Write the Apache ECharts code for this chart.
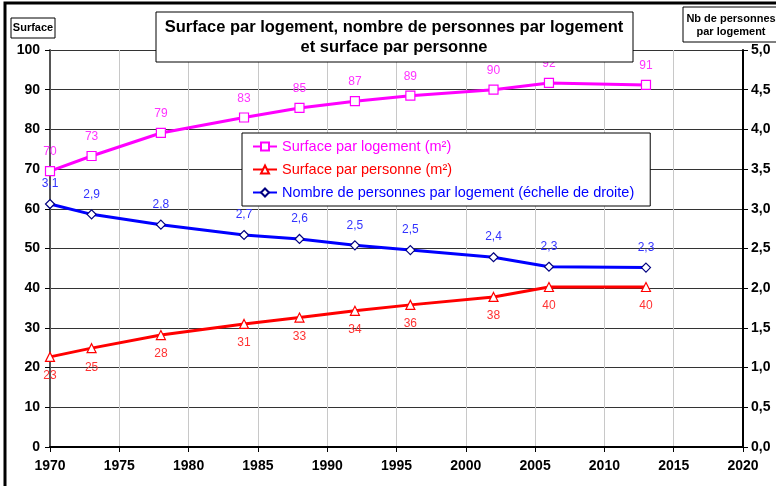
<!DOCTYPE html>
<html>
<head>
<meta charset="utf-8">
<script src="https://cdn.jsdelivr.net/npm/echarts@6/dist/echarts.min.js"></script>
<style>
  html, body { margin: 0; padding: 0; background: #fff; }
  #main { width: 776px; height: 486px; }
</style>
</head>
<body>
<div id="main"></div>
<script>
// années des relevés
var annees = [1970, 1973, 1978, 1984, 1988, 1992, 1996, 2002, 2006, 2013];
// surface par logement (m²)
var surfLogement = [69.5, 73.3, 79.1, 83.0, 85.4, 87.1, 88.5, 90.0, 91.7, 91.2];
// surface par personne (m²)
var surfPersonne = [22.7, 24.9, 28.2, 31.0, 32.6, 34.3, 35.8, 37.8, 40.3, 40.3];
// nombre de personnes par logement (échelle de droite)
var nbPersonnes = [3.06, 2.93, 2.80, 2.67, 2.62, 2.54, 2.48, 2.39, 2.27, 2.26];

var nomsSeries = ['Surface par logement (m²)', 'Surface par personne (m²)', 'Nombre de personnes par logement (échelle de droite)'];
var couleurs = ['#FF00FF', '#FF0000', '#0000FF'];

function paires(vals) {
	var out = [];
	for (var i = 0; i < annees.length; i++) {
		out.push([annees[i], vals[i]]);
	}
	return out;
}

var myChart = echarts.init(document.getElementById('main'));

var axeFont = { fontFamily: 'Liberation Sans, Arial', fontWeight: 'bold', fontSize: 14, color: '#000' };

var option = {
	backgroundColor: '#fff',
	animation: false,
	grid: { left: 50, right: 33, top: 50, bottom: 39 },
	legend: {
		orient: 'vertical',
		left: 242,
		top: 133,
		padding: [6, 16, 6, 10],
		itemGap: 8,
		itemWidth: 24,
		itemHeight: 10,
		backgroundColor: '#fff',
		borderColor: '#000',
		borderWidth: 1,
		data: nomsSeries.map(function(n, i) {
			return { name: n, textStyle: { color: couleurs[i] } };
		}),
		textStyle: { fontFamily: 'Liberation Sans, Arial', fontSize: 14.5 }
	},
	xAxis: {
		type: 'value',
		min: 1970,
		max: 2020,
		interval: 5,
		axisLine: { lineStyle: { color: '#000', width: 2 } },
		axisTick: { show: true, length: 5, lineStyle: { color: '#000' } },
		axisLabel: Object.assign({ margin: 12, formatter: function(v) { return String(v); } }, axeFont),
		splitLine: { show: true, lineStyle: { color: '#c8c8c8', width: 1 } }
	},
	yAxis: [
		{
			type: 'value',
			min: 0,
			max: 100,
			interval: 10,
			axisLine: { show: true, lineStyle: { color: '#555', width: 2 } },
			axisTick: { show: true, length: 5, lineStyle: { color: '#000' } },
			axisLabel: Object.assign({ margin: 10 }, axeFont),
			splitLine: { show: true, lineStyle: { color: '#333', width: 1 } }
		},
		{
			type: 'value',
			min: 0,
			max: 5,
			interval: 0.5,
			position: 'right',
			axisLine: { show: true, lineStyle: { color: '#000', width: 2 } },
			axisTick: { show: true, length: 5, lineStyle: { color: '#000' } },
			axisLabel: Object.assign({ margin: 8, formatter: function(v) { return v.toFixed(1).replace('.', ','); } }, axeFont),
			splitLine: { show: false }
		}
	],
	series: [
		{
			name: nomsSeries[0],
			type: 'line',
			data: paires(surfLogement),
			yAxisIndex: 0,
			symbol: 'rect',
			symbolSize: 9,
			itemStyle: { color: '#fff', borderColor: couleurs[0], borderWidth: 1.2 },
			lineStyle: { color: couleurs[0], width: 3 },
			label: {
				show: true, position: 'top', distance: 8,
				color: '#FF33FF', fontSize: 12, fontFamily: 'Liberation Sans, Arial',
				formatter: function(p) { return Math.round(p.value[1]); }
			},
			z: 3
		},
		{
			name: nomsSeries[1],
			type: 'line',
			data: paires(surfPersonne),
			yAxisIndex: 0,
			symbol: 'triangle',
			symbolSize: 9,
			itemStyle: { color: '#fff', borderColor: couleurs[1], borderWidth: 1.2 },
			lineStyle: { color: couleurs[1], width: 3 },
			label: {
				show: true, position: 'bottom', distance: 8,
				color: '#FF3333', fontSize: 12, fontFamily: 'Liberation Sans, Arial',
				formatter: function(p) { return Math.round(p.value[1]); }
			},
			z: 3
		},
		{
			name: nomsSeries[2],
			type: 'line',
			data: paires(nbPersonnes),
			yAxisIndex: 1,
			symbol: 'diamond',
			symbolSize: 9,
			itemStyle: { color: '#fff', borderColor: '#000080', borderWidth: 1.2 },
			lineStyle: { color: couleurs[2], width: 3 },
			label: {
				show: true, position: 'top', distance: 9,
				color: '#3333FF', fontSize: 12, fontFamily: 'Liberation Sans, Arial',
				formatter: function(p) { return p.value[1].toFixed(1).replace('.', ','); }
			},
			z: 3
		}
	],
	graphic: [
		// cadre général
		{ type: 'rect', shape: { x: 5, y: 3, width: 800, height: 520 }, style: { fill: null, stroke: '#000', lineWidth: 3 }, silent: true, z: 10 },
		// titre
		{ type: 'rect', shape: { x: 156, y: 12, width: 477, height: 50 }, style: { fill: '#fff', stroke: '#000', lineWidth: 1 }, z: 5 },
		{ type: 'text', x: 394, y: 37, style: { text: 'Surface par logement, nombre de personnes par logement\net surface par personne', textAlign: 'center', textVerticalAlign: 'middle', font: 'bold 16.5px Liberation Sans, Arial', fill: '#000', lineHeight: 20 }, z: 6 },
		// nom axe gauche
		{ type: 'rect', shape: { x: 11, y: 18, width: 44, height: 20 }, style: { fill: '#fff', stroke: '#000', lineWidth: 1 }, z: 5 },
		{ type: 'text', x: 33, y: 28, style: { text: 'Surface', textAlign: 'center', textVerticalAlign: 'middle', font: 'bold 11px Liberation Sans, Arial', fill: '#000' }, z: 6 },
		// nom axe droit
		{ type: 'rect', shape: { x: 683, y: 7, width: 100, height: 35 }, style: { fill: '#fff', stroke: '#000', lineWidth: 1 }, z: 5 },
		{ type: 'text', x: 731, y: 25, style: { text: 'Nb de personnes\npar logement', textAlign: 'center', textVerticalAlign: 'middle', font: 'bold 11px Liberation Sans, Arial', fill: '#000', lineHeight: 13 }, z: 6 }
	]
};

myChart.setOption(option);
</script>
</body>
</html>
